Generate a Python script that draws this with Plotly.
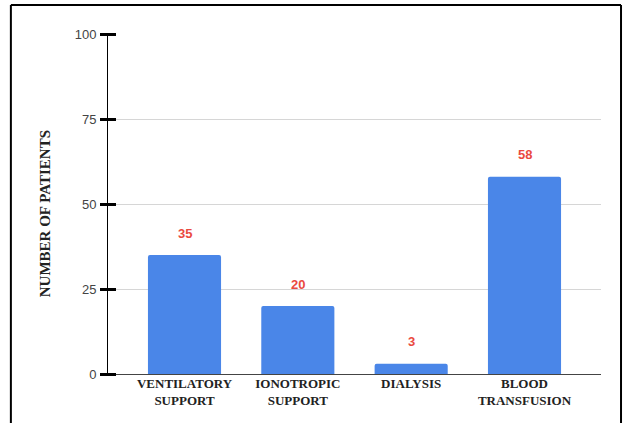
import plotly.graph_objects as go

# Patients per intervention
categories = ["VENTILATORY<br>SUPPORT", "IONOTROPIC<br>SUPPORT", "DIALYSIS", "BLOOD<br>TRANSFUSION"]
patients = [35, 20, 3, 58]
y_ticks = [0, 25, 50, 75, 100]

BAR_BLUE = "#4a86e8"
LABEL_RED = "#ea4a3f"

# Plot-area geometry in pixels (used to place the crossing tick axis)
PLOT_LEFT, PLOT_RIGHT = 108, 601
TICK_HALF = 8

fig = go.Figure()
fig.add_trace(go.Bar(
    x=categories,
    y=patients,
    marker=dict(color=BAR_BLUE, line=dict(width=0), cornerradius=2),
    width=0.645,
    hoverinfo="skip",
))
# Invisible companion trace so the crossing-tick axis is drawn
fig.add_trace(go.Scatter(
    x=categories, y=patients, yaxis="y2", mode="markers",
    marker=dict(opacity=0), hoverinfo="skip", showlegend=False,
))

# Value labels floating above each bar
for cat, val in zip(categories, patients):
    fig.add_annotation(
        x=cat, y=val, text=str(val), showarrow=False,
        yshift=22, font=dict(family="Arial, Liberation Sans", size=13, color=LABEL_RED, weight="bold"),
    )

# Vertical axis title
fig.add_annotation(
    xref="paper", yref="paper", x=-0.148, y=0.47,
    text="NUMBER OF PATIENTS", textangle=-90, showarrow=False,
    font=dict(family="Liberation Serif, Times New Roman", size=15, color="#222", weight="bold"),
)

# Frame around the chart (top, left and right edges)
border = dict(color="black", width=2)
fig.add_shape(type="line", xref="paper", yref="paper", x0=-0.197, x1=1.0406, y0=1.0853, y1=1.0853, line=border)
fig.add_shape(type="line", xref="paper", yref="paper", x0=-0.197, x1=-0.197, y0=1.0853, y1=-0.2, line=border)
fig.add_shape(type="line", xref="paper", yref="paper", x0=1.0406, x1=1.0406, y0=1.0853, y1=-0.2, line=border)

fig.update_layout(
    width=623, height=423,
    margin=dict(l=PLOT_LEFT, r=623 - PLOT_RIGHT, t=34, b=49),
    paper_bgcolor="white", plot_bgcolor="white",
    showlegend=False,
    xaxis=dict(
        range=[-0.675, 3.675],
        showline=False, showgrid=False, ticks="",
        tickfont=dict(family="Liberation Serif, Times New Roman", size=13, color="#222", weight="bold"),
    ),
    yaxis=dict(
        range=[0, 100], tickvals=y_ticks,
        showgrid=True, gridcolor="#d6d6d6", gridwidth=1,
        zeroline=True, zerolinecolor="#444", zerolinewidth=1,
        showline=True, linecolor="black", linewidth=1,
        ticks="outside", ticklen=8, tickwidth=1, tickcolor="rgba(0,0,0,0)",
        tickfont=dict(family="Arial, Liberation Sans", size=13, color="#444"),
    ),
    # Tick marks that straddle the vertical axis line
    yaxis2=dict(
        overlaying="y", matches="y", side="left",
        anchor="free", position=TICK_HALF / (PLOT_RIGHT - PLOT_LEFT),
        tickvals=y_ticks, showticklabels=False, showgrid=False, zeroline=False,
        showline=False,
        ticks="outside", ticklen=2 * TICK_HALF, tickwidth=2.5, tickcolor="black",
    ),
)

fig.write_html("out.html")
